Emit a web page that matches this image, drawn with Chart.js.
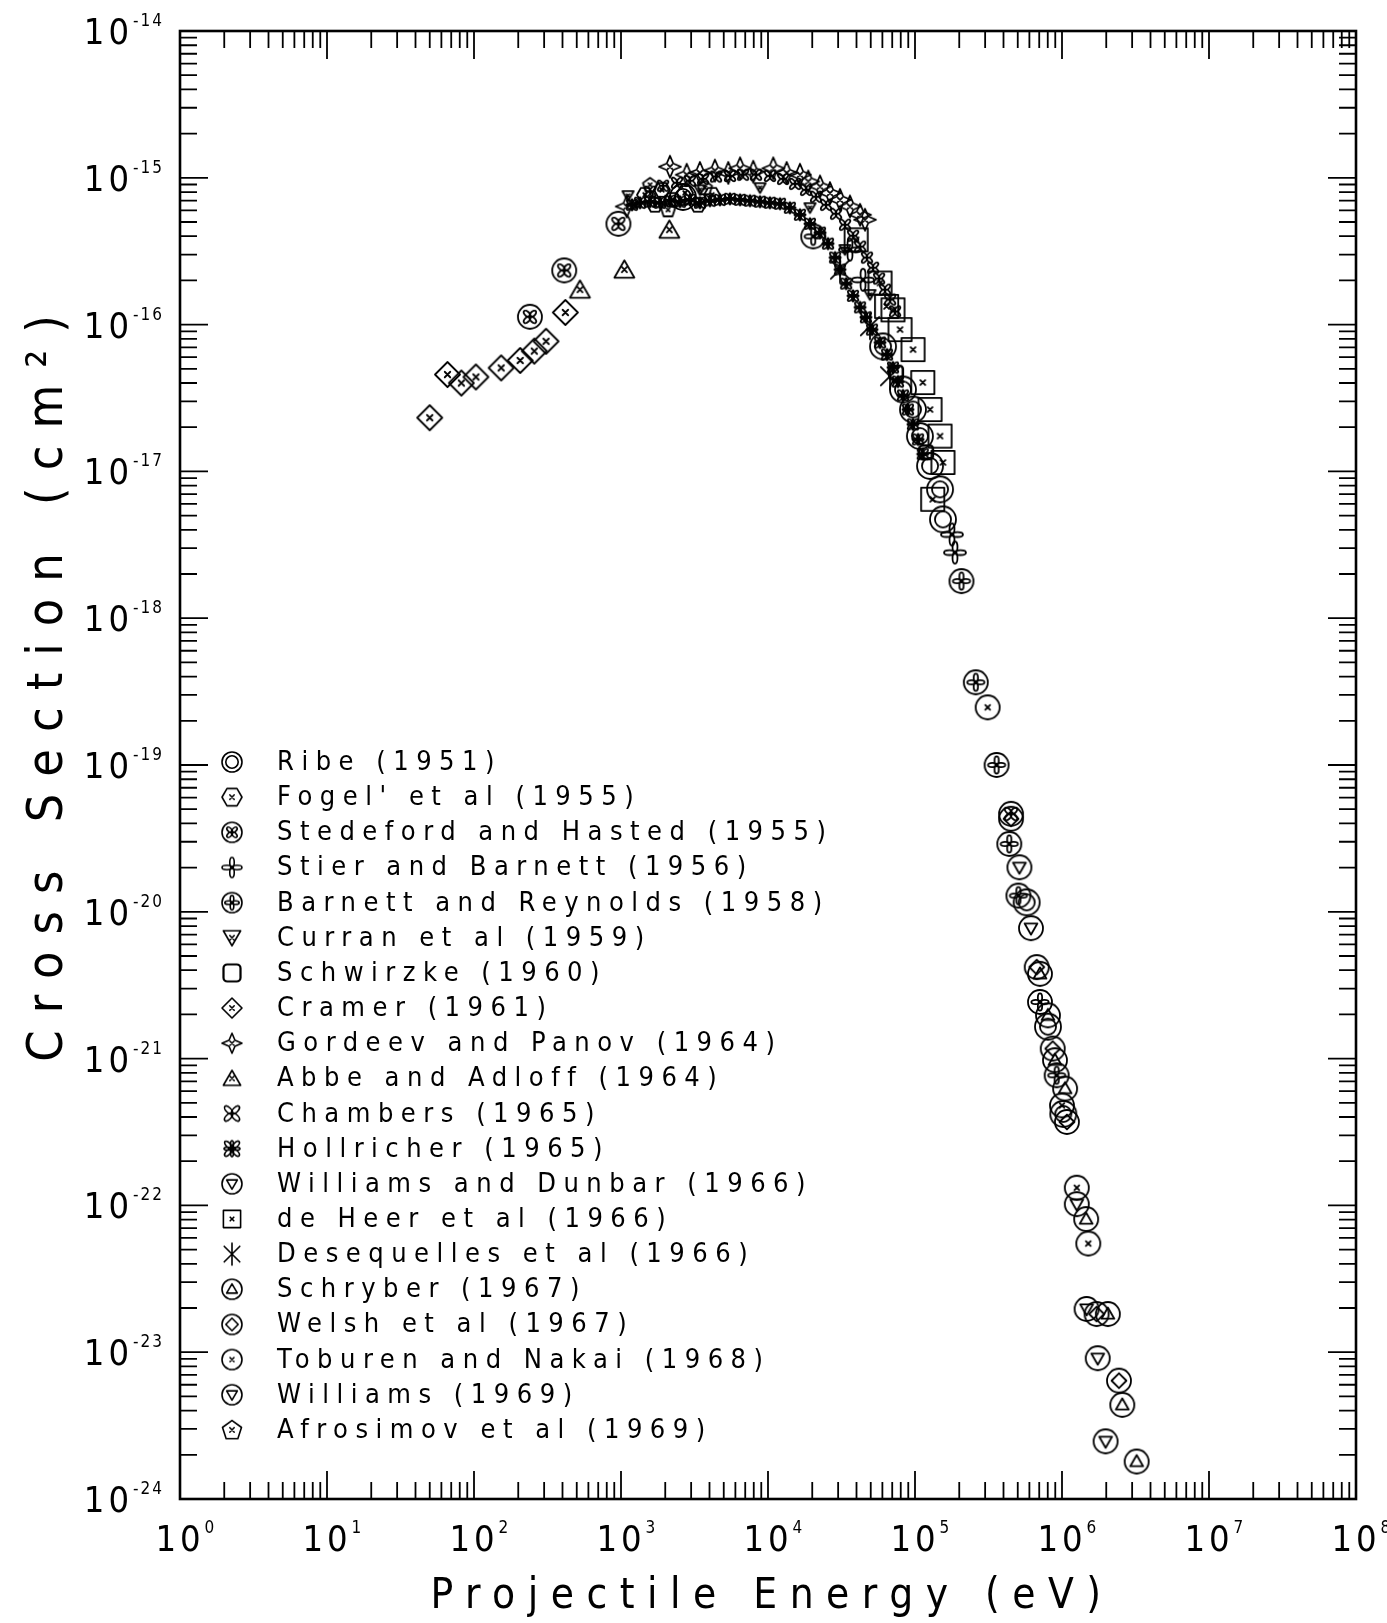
<!DOCTYPE html>
<html>
<head>
<meta charset="utf-8">
<title>Cross Section vs Projectile Energy</title>
<script src="https://cdn.jsdelivr.net/npm/chart.js@4.4.1/dist/chart.umd.min.js"></script>
<style>
  html, body { margin: 0; padding: 0; background: #fff; }
  #chart { display: block; }
</style>
</head>
<body>
<canvas id="chart" width="1387" height="1623"></canvas>
<script>
// Energies in eV, cross sections in cm^2

const ribeE = [2640, 60600, 82800, 96900, 108000, 126500, 148000, 155000, 575000, 803000, 1.02e6];
const ribeS = [7.4e-16, 7.1e-17, 3.61e-17, 2.64e-17, 1.74e-17, 1.09e-17, 7.55e-18, 4.71e-18, 1.16e-20, 1.65e-21, 4.2e-22];

const fogelE = [1456, 1702, 1900, 2222, 2724, 3340, 4160];
const fogelS = [7.66e-16, 6.55e-16, 8.28e-16, 7.08e-16, 7.9e-16, 6.55e-16, 7.66e-16];

const stedefordE = [240, 411, 960, 450000];
const stedefordS = [1.13e-16, 2.34e-16, 4.86e-16, 4.65e-20];

const stierE = [36100, 44300, 178500, 187000];
const stierS = [3.24e-16, 2.02e-16, 3.72e-18, 2.8e-18];

const barnettE = [20300, 207000, 259000, 359000, 438000, 505000, 708000, 920000];
const barnettS = [3.99e-16, 1.79e-18, 3.66e-19, 1.0e-19, 2.9e-20, 1.29e-20, 2.43e-21, 7.7e-22];

const curranE = [1116, 3446, 8830, 19300, 33400, 49400];
const curranS = [7.55e-16, 8.28e-16, 8.55e-16, 6.25e-16, 3.24e-16, 1.6e-16];

const schwirzkeE = [74300, 119000];
const schwirzkeS = [4.71e-17, 1.35e-17];

const cramerE = [50, 66, 82, 103, 153, 206, 257, 309, 418];
const cramerS = [2.32e-17, 4.57e-17, 4.0e-17, 4.4e-17, 5.07e-17, 5.7e-17, 6.6e-17, 7.7e-17, 1.21e-16];

const gordeevE = [1094, 2153, 2800, 3443, 4355, 5370, 6457, 7943, 10860, 13400, 16500, 18800, 22600, 26400, 30900, 36100, 42300, 45700];
const gordeevS = [6.38e-16, 1.19e-15, 1.05e-15, 1.08e-15, 1.12e-15, 1.08e-15, 1.16e-15, 1.10e-15, 1.16e-15, 1.08e-15, 1.05e-15, 9.44e-16, 8.73e-16, 7.87e-16, 7.08e-16, 6.38e-16, 5.6e-16, 5.18e-16];

const abbeE = [526, 1054, 2132];
const abbeS = [1.73e-16, 2.37e-16, 4.43e-16];

const chambersE = [1575, 1931, 2404, 2946, 3614, 4426, 5510, 6760, 8280, 10300, 12650, 15270, 18150, 21200, 24800, 29000, 33400, 37900, 42300, 47100, 51800, 56900, 62500, 67600, 73100];
const chambersS = [8.04e-16, 8.83e-16, 9.25e-16, 9.55e-16, 9.84e-16, 1.02e-15, 1.03e-15, 1.05e-15, 1.05e-15, 1.03e-15, 9.84e-16, 9.1e-16, 8.28e-16, 7.43e-16, 6.55e-16, 5.69e-16, 4.79e-16, 4.03e-16, 3.4e-16, 2.86e-16, 2.44e-16, 2.06e-16, 1.73e-16, 1.48e-16, 1.23e-16];

const hollricherE = [1189, 1347, 1575, 1843, 2153, 2520, 2946, 3446, 4030, 4713, 5510, 6457, 7550, 8830, 10300, 12070, 14100, 16500, 19300, 22600, 25600, 28600, 30900, 34000, 37900, 42300, 46400, 51000, 57800, 64500, 70800, 76600, 82800, 89600, 96900, 105000, 113000];
const hollricherS = [6.55e-16, 6.76e-16, 6.87e-16, 6.76e-16, 6.98e-16, 6.87e-16, 7.08e-16, 6.76e-16, 6.98e-16, 7.08e-16, 7.19e-16, 7.08e-16, 6.98e-16, 6.87e-16, 6.76e-16, 6.65e-16, 6.25e-16, 5.6e-16, 4.86e-16, 4.23e-16, 3.56e-16, 2.86e-16, 2.37e-16, 1.9e-16, 1.57e-16, 1.31e-16, 1.12e-16, 9.25e-17, 7.55e-17, 6.25e-17, 5.1e-17, 4.09e-17, 3.29e-17, 2.64e-17, 2.09e-17, 1.65e-17, 1.31e-17];

const williamsDunbarE = [513000, 615000];
const williamsDunbarS = [2.01e-20, 7.74e-21];

const deHeerE = [39800, 57800, 64100, 70800, 79100, 97000, 113000, 126500, 148000, 155000, 132000];
const deHeerS = [3.78e-16, 1.92e-16, 1.33e-16, 1.26e-16, 9.25e-17, 6.76e-17, 4.03e-17, 2.64e-17, 1.74e-17, 1.15e-17, 6.46e-18];

const desequellesE = [30900, 49400, 67600];
const desequellesS = [2.37e-16, 9.75e-17, 4.45e-17];

const schryberE = [708000, 803000, 896000, 1.05e6, 1.46e6, 2.05e6, 2.57e6, 3.22e6];
const schryberS = [3.78e-21, 1.97e-21, 9.75e-22, 6.25e-22, 8.07e-23, 1.82e-23, 4.38e-24, 1.8e-24];

const welshE = [450000, 673000, 865000, 1.08e6, 1.72e6, 2.44e6];
const welshS = [4.3e-20, 4.2e-21, 1.17e-21, 3.7e-22, 1.82e-23, 6.4e-24];

const toburenE = [312000, 1.0e6, 1.26e6, 1.51e6];
const toburenS = [2.47e-19, 4.8e-22, 1.32e-22, 5.5e-23];

const williamsE = [1.26e6, 1.47e6, 1.75e6, 1.98e6];
const williamsS = [1.02e-22, 1.97e-23, 9.1e-24, 2.47e-24];

const afrosimovE = [1575, 2090, 3726];
const afrosimovS = [8.95e-16, 6.05e-16, 8.55e-16];

// axis decades and minor tick mantissas
const xDecades = [0, 1, 2, 3, 4, 5, 6, 7, 8];
const yDecades = [-24, -23, -22, -21, -20, -19, -18, -17, -16, -15, -14];
const minorMantissas = [2, 3, 4, 5, 6, 7, 8, 9];

const FONT = '"DejaVu Sans Condensed", "Liberation Sans Narrow", "DejaVu Sans", sans-serif';

// series: label, energies, cross sections, marker kind, marker size
const series = [
  ['Ribe (1951)', ribeE, ribeS, 'dcircle', 26],
  ["Fogel' et al (1955)", fogelE, fogelS, 'hexX', 16],
  ['Stedeford and Hasted (1955)', stedefordE, stedefordS, 'circQuatX', 24],
  ['Stier and Barnett (1956)', stierE, stierS, 'quatPlus', 22],
  ['Barnett and Reynolds (1958)', barnettE, barnettS, 'circQuatPlus', 24],
  ['Curran et al (1959)', curranE, curranS, 'triDownX', 13],
  ['Schwirzke (1960)', schwirzkeE, schwirzkeS, 'rsquare', 16],
  ['Cramer (1961)', cramerE, cramerS, 'diamondX', 25],
  ['Gordeev and Panov (1964)', gordeevE, gordeevS, 'starX', 22],
  ['Abbe and Adloff (1964)', abbeE, abbeS, 'triUpX', 23],
  ['Chambers (1965)', chambersE, chambersS, 'quatX', 14],
  ['Hollricher (1965)', hollricherE, hollricherS, 'flower', 14],
  ['Williams and Dunbar (1966)', williamsDunbarE, williamsDunbarS, 'circTriDown', 24],
  ['de Heer et al (1966)', deHeerE, deHeerS, 'squareX', 27],
  ['Desequelles et al (1966)', desequellesE, desequellesS, 'asterisk', 26],
  ['Schryber (1967)', schryberE, schryberS, 'circTriUp', 24],
  ['Welsh et al (1967)', welshE, welshS, 'circDiamond', 24],
  ['Toburen and Nakai (1968)', toburenE, toburenS, 'circX', 24],
  ['Williams (1969)', williamsE, williamsS, 'circTriDown', 24],
  ['Afrosimov et al (1969)', afrosimovE, afrosimovS, 'pentX', 15]
];

// draws one marker into its own small canvas, used as a Chart.js pointStyle
function symbolCanvas(kind, d, lw) {
  const pad = Math.ceil(lw) + 2;
  const size = Math.ceil(d + 2 * pad);
  const cv = document.createElement('canvas');
  cv.width = size;
  cv.height = size;
  const g = cv.getContext('2d');
  const c = size / 2, r = d / 2;
  g.strokeStyle = '#000';
  g.lineWidth = lw;
  g.lineJoin = 'round';
  g.lineCap = 'round';

  const circle = (rr) => { g.beginPath(); g.arc(c, c, rr, 0, Math.PI * 2); g.stroke(); };
  const poly = (n, rr, rot, dy) => {
    g.beginPath();
    for (let i = 0; i < n; i++) {
      const a = rot + i * 2 * Math.PI / n;
      const px = c + rr * Math.cos(a), py = c + (dy || 0) + rr * Math.sin(a);
      if (i) g.lineTo(px, py); else g.moveTo(px, py);
    }
    g.closePath();
    g.stroke();
  };
  const cross = (s) => {
    g.beginPath();
    g.moveTo(c - s, c - s); g.lineTo(c + s, c + s);
    g.moveTo(c + s, c - s); g.lineTo(c - s, c + s);
    g.stroke();
  };
  const petals = (len, w, rot) => {
    for (let i = 0; i < 4; i++) {
      const a = rot + i * Math.PI / 2;
      g.beginPath();
      g.ellipse(c + Math.cos(a) * len / 2, c + Math.sin(a) * len / 2, len / 2, w / 2, a, 0, Math.PI * 2);
      g.stroke();
    }
  };

  switch (kind) {
    case 'dcircle': circle(r); circle(r * 0.62); break;
    case 'hexX': poly(6, r, 0); cross(r * 0.22); break;
    case 'circQuatX': circle(r); petals(r * 0.68, r * 0.38, Math.PI / 4); break;
    case 'quatPlus': petals(r, r * 0.45, 0); break;
    case 'circQuatPlus': circle(r); petals(r * 0.72, r * 0.36, 0); break;
    case 'triDownX': poly(3, r, Math.PI / 2, -r * 0.2); cross(r * 0.22); break;
    case 'rsquare': {
      const s = r * 0.85;
      g.lineWidth = lw * 1.4;
      g.beginPath(); g.roundRect(c - s, c - s, 2 * s, 2 * s, s * 0.45); g.stroke();
      break;
    }
    case 'diamondX': poly(4, r, -Math.PI / 2); cross(r * 0.22); break;
    case 'starX': {
      g.beginPath();
      for (let i = 0; i < 8; i++) {
        const a = -Math.PI / 2 + i * Math.PI / 4;
        const rr = i % 2 ? r * 0.42 : r;
        const px = c + rr * Math.cos(a), py = c + rr * Math.sin(a);
        if (i) g.lineTo(px, py); else g.moveTo(px, py);
      }
      g.closePath(); g.stroke();
      cross(r * 0.2);
      break;
    }
    case 'triUpX': poly(3, r, -Math.PI / 2, r * 0.2); cross(r * 0.22); break;
    case 'quatX': petals(r, r * 0.5, Math.PI / 4); break;
    case 'flower': petals(r, r * 0.45, Math.PI / 4); petals(r * 0.8, r * 0.3, 0); break;
    case 'circTriDown': circle(r); poly(3, r * 0.62, Math.PI / 2, -r * 0.08); break;
    case 'squareX': {
      const s = r * 0.86;
      g.strokeRect(c - s, c - s, 2 * s, 2 * s);
      cross(r * 0.18);
      break;
    }
    case 'asterisk': {
      g.beginPath();
      for (const a of [Math.PI / 2, Math.PI / 4, -Math.PI / 4]) {
        g.moveTo(c - r * Math.cos(a), c - r * Math.sin(a));
        g.lineTo(c + r * Math.cos(a), c + r * Math.sin(a));
      }
      g.stroke();
      break;
    }
    case 'circTriUp': circle(r); poly(3, r * 0.62, -Math.PI / 2, r * 0.08); break;
    case 'circDiamond': circle(r); poly(4, r * 0.62, -Math.PI / 2); break;
    case 'circX': circle(r); cross(r * 0.2); break;
    case 'pentX': poly(5, r, -Math.PI / 2, r * 0.06); cross(r * 0.22); break;
  }
  return cv;
}

const legendSymbols = series.map(s => symbolCanvas(s[3], s[3] === 'asterisk' ? 22 : 20, 1.6));

const datasets = series.map(([label, eArr, sArr, kind, size]) => ({
  label: label,
  data: eArr.map((e, i) => ({ x: e, y: sArr[i] })),
  pointStyle: symbolCanvas(kind, size, 1.8),
  pointRadius: size / 2,
  pointHoverRadius: size / 2
}));

function drawPow(ctx, x, y, exp, align) {
  // "10" with a raised exponent; align 'center' centres the 10 on x, 'right' ends the exponent at x
  ctx.font = '36px ' + FONT;
  ctx.letterSpacing = '4px';
  const base = '10';
  const wBase = ctx.measureText(base).width;
  ctx.font = '17px ' + FONT;
  ctx.letterSpacing = '2px';
  const wExp = ctx.measureText(exp).width;
  let x0;
  if (align === 'center') x0 = x - wBase / 2;
  else x0 = x - wBase - wExp - 4;
  ctx.textAlign = 'left';
  ctx.textBaseline = 'alphabetic';
  ctx.font = '36px ' + FONT;
  ctx.letterSpacing = '4px';
  ctx.fillText(base, x0, y);
  ctx.font = '17px ' + FONT;
  ctx.letterSpacing = '2px';
  ctx.fillText(exp, x0 + wBase, y - 18);
}

const framePlugin = {
  id: 'frame',
  afterDraw(chart) {
    const ctx = chart.ctx;
    const xs = chart.scales.x, ys = chart.scales.y;
    const { left, right, top, bottom } = chart.chartArea;
    ctx.save();
    ctx.strokeStyle = '#000';
    ctx.fillStyle = '#000';

    // inward ticks on all four sides
    const majorLen = 28, minorLen = 17;
    ctx.lineWidth = 1.8;
    ctx.beginPath();
    xDecades.forEach((d, i) => {
      const px = xs.getPixelForValue(Math.pow(10, d));
      ctx.moveTo(px, bottom); ctx.lineTo(px, bottom - majorLen);
      ctx.moveTo(px, top); ctx.lineTo(px, top + majorLen);
      if (i < xDecades.length - 1) {
        minorMantissas.forEach(m => {
          const mx = xs.getPixelForValue(m * Math.pow(10, d));
          ctx.moveTo(mx, bottom); ctx.lineTo(mx, bottom - minorLen);
          ctx.moveTo(mx, top); ctx.lineTo(mx, top + minorLen);
        });
      }
    });
    yDecades.forEach((d, i) => {
      const py = ys.getPixelForValue(Math.pow(10, d));
      ctx.moveTo(left, py); ctx.lineTo(left + majorLen, py);
      ctx.moveTo(right, py); ctx.lineTo(right - majorLen, py);
      if (i < yDecades.length - 1) {
        minorMantissas.forEach(m => {
          const my = ys.getPixelForValue(m * Math.pow(10, d));
          ctx.moveTo(left, my); ctx.lineTo(left + minorLen, my);
          ctx.moveTo(right, my); ctx.lineTo(right - minorLen, my);
        });
      }
    });
    ctx.stroke();

    // frame
    ctx.lineWidth = 2.6;
    ctx.strokeRect(left, top, right - left, bottom - top);

    // tick labels
    xDecades.forEach(d => {
      const px = xs.getPixelForValue(Math.pow(10, d));
      drawPow(ctx, px, 1551, String(d), 'center');
    });
    yDecades.forEach(d => {
      const py = ys.getPixelForValue(Math.pow(10, d));
      drawPow(ctx, 168, py + 13, String(d), 'right');
    });

    // axis titles
    ctx.textAlign = 'center';
    ctx.textBaseline = 'alphabetic';
    ctx.font = '42px ' + FONT;
    ctx.letterSpacing = '12.5px';
    ctx.fillText('Projectile Energy (eV)', 772, 1608);

    ctx.save();
    ctx.translate(62, 680);
    ctx.rotate(-Math.PI / 2);
    ctx.font = '50px ' + FONT;
    ctx.letterSpacing = '17px';
    ctx.fillText('Cross Section (cm²)', 0, 0);
    ctx.restore();

    // legend inside the plot
    ctx.textAlign = 'left';
    ctx.textBaseline = 'middle';
    ctx.font = '27px ' + FONT;
    ctx.letterSpacing = '7.5px';
    series.forEach((s, i) => {
      const cy = 762 + i * 35.15;
      const sym = legendSymbols[i];
      ctx.drawImage(sym, 232 - sym.width / 2, cy - sym.height / 2);
      ctx.fillText(s[0], 277, cy + 1);
    });
    ctx.restore();
  }
};

new Chart(document.getElementById('chart'), {
  type: 'scatter',
  data: { datasets: datasets },
  options: {
    responsive: false,
    animation: false,
    devicePixelRatio: 1,
    layout: { padding: { top: 31, right: 31, left: 0, bottom: 0 } },
    plugins: {
      legend: { display: false },
      tooltip: { enabled: false }
    },
    scales: {
      x: {
        type: 'logarithmic',
        min: 1,
        max: 1e8,
        ticks: { display: false },
        grid: { display: false },
        border: { display: false },
        afterFit: (scale) => { scale.height = 124; }
      },
      y: {
        type: 'logarithmic',
        min: 1e-24,
        max: 1e-14,
        ticks: { display: false },
        grid: { display: false },
        border: { display: false },
        afterFit: (scale) => { scale.width = 180; }
      }
    }
  },
  plugins: [framePlugin]
});
</script>
</body>
</html>
